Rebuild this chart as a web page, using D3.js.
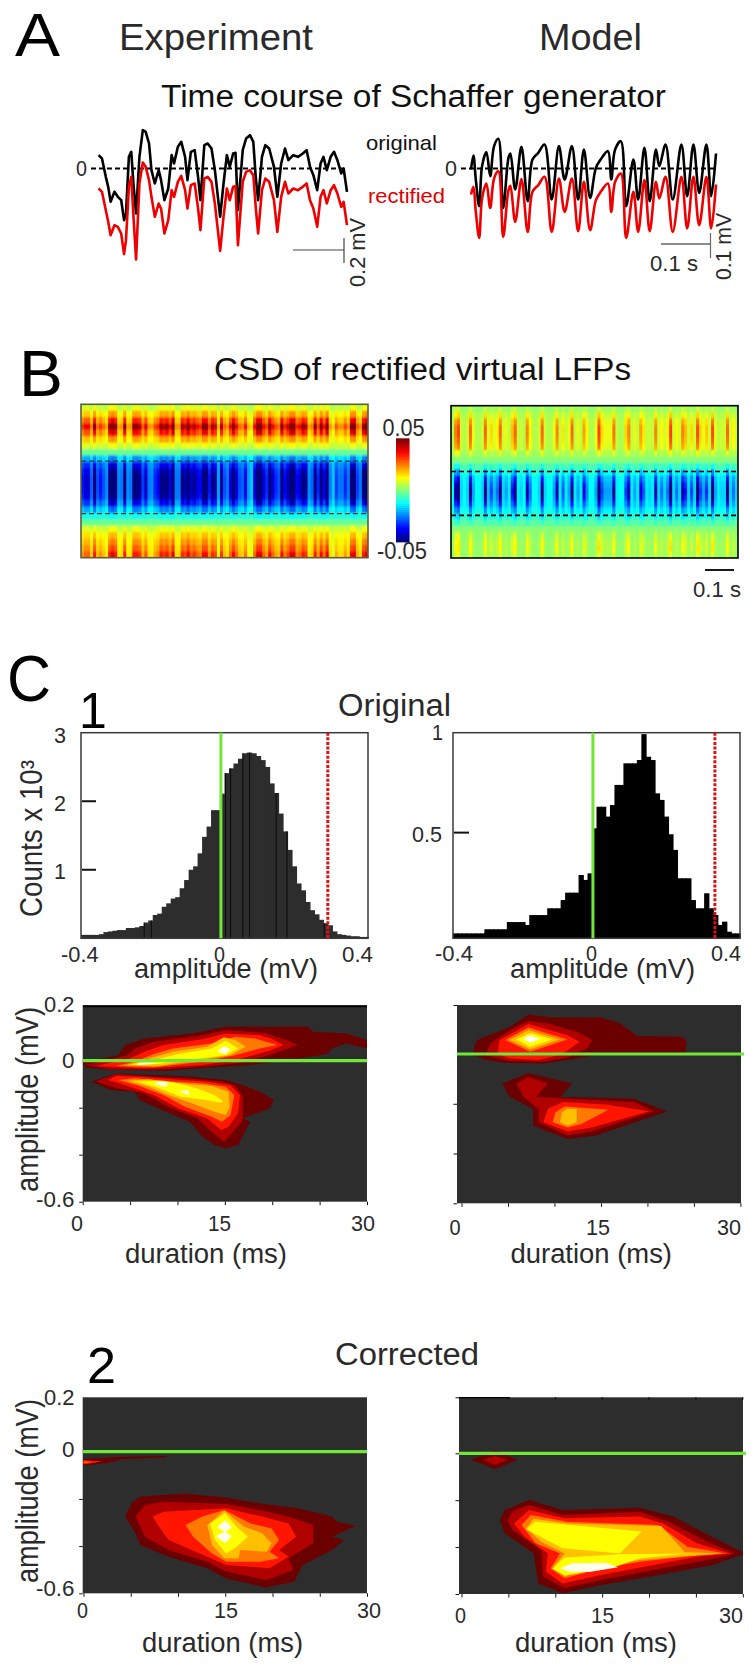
<!DOCTYPE html>
<html><head><meta charset="utf-8">
<script src="https://cdn.jsdelivr.net/npm/d3@7/dist/d3.min.js"></script>
<style>html,body{margin:0;background:#fff}svg{display:block}text{font-family:"Liberation Sans",Arial,sans-serif}</style>
</head><body><svg id="c" width="754" height="1666"></svg>
<script>
// ---------- A: traces (time in ms, amplitude in trace units; 375 units = 1 mV)
const tExp=[0,7,15,20,25,33,40,47,53,57,63,68,73,78,85,92,98,105,110,117,125,130,137,145,152,157,165,172,180,185,192,200,207,212,220,227,235,242,253,260,267,273,280,285,290,300,307,315,322,327,332,340,347,355,365,372,380,388,395,405,415,425,433,440,447,455,462,468,475,483,490,497,505,510,517];
const expOriginal=[40,30,-25,-55,-100,-70,-85,-95,-155,-135,35,50,-55,-135,35,115,110,75,-5,-45,-5,-35,-95,-60,40,15,65,80,35,-35,50,55,-25,-95,70,75,60,-5,-145,-45,40,5,45,47,-125,55,90,100,80,-25,-95,35,70,60,5,-85,15,60,25,40,35,45,55,5,-20,-65,15,35,-5,35,50,25,-15,0,-70];
const expRectified=[-60,-70,-125,-160,-200,-170,-175,-195,-257,-215,-55,-25,-155,-273,-45,18,5,-35,-85,-145,-105,-120,-195,-155,-65,-85,-40,-22,-65,-120,-50,-45,-120,-185,-30,-25,-40,-105,-247,-145,-60,-95,-55,-53,-230,-40,-10,-5,-20,-115,-195,-65,-30,-40,-95,-190,-85,-40,-75,-60,-65,-55,-45,-95,-120,-175,-85,-65,-105,-65,-50,-75,-115,-100,-170];
const tModel=[0,5,10,17,23,32,40,48,57,67,78,82,92,105,118,128,140,153,168,183,195,210,223,235,248,260,270,285,292,300,312,323,338,348,361,372,385,392,405,420,438,450,463,475,490,500,510];
const modelOriginal=[-3,39,-33,-113,7,49,-23,67,89,-118,32,45,-63,65,-98,27,47,72,-93,67,-33,67,-93,57,-88,2,27,52,-33,57,82,-113,27,-93,62,-98,57,7,72,-93,72,-83,72,-73,72,-83,45];
const modelRectified=[-78,-55,-130,-208,-90,-45,-118,-30,-8,-205,-65,-52,-160,-32,-190,-70,-50,-25,-190,-30,-130,-30,-188,-40,-185,-95,-70,-45,-130,-40,-15,-208,-70,-190,-35,-188,-40,-90,-25,-190,-25,-180,-25,-170,-25,-180,-48];
const zeroLevel=[0];

// ---------- B: CSD values, depth rows top to bottom, activity per time bin
const expDepthQuiet=[.004,.009,.011,.016,.011,.010,.006,-.002,-.012,-.018,-.018,-.018,-.018,-.018,-.018,-.015,-.010,-.008,-.002,.006,.009,.010,.010,.010];
const expDepthActive=[.012,.024,.040,.054,.042,.024,.012,-.002,-.026,-.044,-.054,-.058,-.058,-.058,-.054,-.044,-.028,-.012,-.002,.012,.020,.026,.032,.040];
const expActivity=[.45,.6,.6,.25,.85,.3,.45,.3,.15,.85,1,.85,.15,.2,.85,.15,.2,.85,.85,.75,.35,.65,.2,.15,.4,.5,.85,.75,.85,.6,1,.2,.2,.8,.7,.95,.65,.75,.6,.5,.9,.9,.45,.8,.7,.1,.75,.3,.2,.6,.9,.6,.3,.25,.55,.1,0,.6,1,1,.6,.4,.9,.6,.4,.3,.9,.5,.7,1,1,.5,.6,.85,.75,.15,.25,.85,.4,.9,.55,1,.2,0,.35,.2,.2,.4,.2,.9,1,.35,.2,.85,1];
const modelDepthQuiet=[.002,.004,.005,.005,.005,.005,.005,.003,.001,-.004,-.008,-.012,-.012,-.012,-.012,-.012,-.010,-.007,-.003,.001,.001,.002,.002,.002];
const modelDepthActive=[.008,.018,.028,.033,.033,.031,.027,.012,.001,-.012,-.026,-.042,-.054,-.062,-.056,-.042,-.028,-.017,-.008,.002,.012,.015,.016,.012];
const modelActivity=[0,.7,.9,.1,0,.1,.8,.2,0,0,.1,.8,.15,.4,.15,.3,.8,.1,.2,.05,.5,.8,.05,.1,0,.7,.3,0,0,.1,.8,.1,0,0,.2,.7,.05,.35,.05,.2,.8,.05,.2,.05,.6,.25,0,0,.2,.95,.4,.2,.2,.2,.75,.05,0,0,.4,.7,.05,.2,.05,.6,.35,.05,.1,.05,.7,.1,.3,.1,.3,.95,.1,.3,.1,.7,.5,.1,.4,.1,.9,.4,.2,.45,.1,.9,.2,.05,.1,.1,.8,.1,.3,.1];
const expDashes=[.37,.713], modelDashes=[.432,.72];
const jetStops=[-.05,-.0375,-.0125,0,.0125,.0375,.05];
const jetColors=["#00007f","#0000ff","#00ffff","#7fff7f","#ffff00","#ff0000","#7f0000"];

// ---------- C: histograms (counts x 10^3 per amplitude bin)
const histStart=-.39, histBin=.0125;
const histExp=[.05,.05,.05,.05,.06,.09,.10,.11,.12,.12,.15,.15,.16,.18,.23,.26,.34,.36,.46,.51,.58,.60,.73,.85,1.0,1.05,1.24,1.48,1.63,1.87,1.87,2.11,2.41,2.48,2.55,2.62,2.70,2.71,2.70,2.66,2.60,2.50,2.26,2.12,1.82,1.56,1.29,1.05,.80,.70,.53,.41,.35,.27,.22,.19,.10,.06,.05,.04,.03,.03,.02,.02];
const histModel=[.024,.024,.024,.024,.024,.024,.024,.044,.044,.044,.044,.044,.079,.079,.079,.079,.065,.113,.113,.113,.113,.146,.146,.146,.186,.222,.222,.222,.308,.284,.316,.535,.64,.64,.592,.648,.746,.746,.851,.851,.851,.867,.993,.883,.867,.705,.673,.592,.506,.43,.292,.292,.292,.186,.146,.146,.219,.146,.113,.065,.081,.032,.024,.024];
const histExpSeams=[-.214,-.194,.013,.027,.061,.08,.154,.184,.288];
const zeroAmp=0, thresholdExp=.298, thresholdModel=.34;

// ---------- C: filled contours, [level,[[duration ms, amplitude mV],...]]
const levelColors=["#6a0000","#b00000","#ff1500","#ff7800","#ffc000","#ffff00","#fffff0"];
const contoursOrigExp=[
[0,[[0,-.011],[.4,-.03],[3.5,-.04],[9,-.043],[13.6,-.028],[16.6,-.023],[21.7,.002],[25.8,.024],[26.3,.044],[27.8,.062],[30,.044],[30,.074],[27.8,.098],[24.3,.104],[23.8,.122],[19.7,.122],[15.1,.122],[11.6,.098],[6.5,.08],[4.5,.056],[3.7,.02],[.9,.002],[0,-.004]]],
[1,[[.2,-.018],[2.9,-.037],[8.5,-.037],[13.6,-.023],[16.6,-.009],[19.7,.02],[22.7,.056],[21.5,.074],[19.2,.1],[15.1,.11],[12.1,.089],[7.5,.068],[5.5,.044],[4.7,.02],[1.4,-.009]]],
[2,[[1.4,-.023],[6.5,-.033],[12.6,-.018],[16.1,.002],[19.7,.036],[21.2,.056],[19.9,.08],[18.7,.092],[15.1,.098],[12.6,.077],[8.5,.056],[6.5,.032],[5,.008]]],
[3,[[3.5,-.023],[7.5,-.028],[12.6,-.004],[16.1,.02],[18.7,.044],[20.5,.056],[18.2,.08],[16.1,.086],[13.6,.062],[9.5,.044],[7.5,.024],[5.5,-.004]]],
[4,[[4.5,-.02],[8,-.023],[12.1,.002],[15.6,.02],[17.2,.05],[16.1,.074],[14.9,.084],[13.1,.05],[9.5,.032],[7.5,.012]]],
[5,[[5,-.017],[8,-.014],[11.6,.005],[15.1,.02],[16.4,.044],[15.1,.072],[13.6,.044],[10.1,.024],[7.5,.002]]],
[6,[[5.7,-.018],[7.5,-.014],[7.3,-.009],[6,-.009]]],
[6,[[14.2,.032],[15.1,.024],[15.6,.041],[14.9,.053]]],
[0,[[.9,-.089],[2.9,-.125],[5.5,-.132],[6,-.167],[8,-.203],[11.3,-.26],[12.6,-.323],[13.9,-.359],[15.1,-.373],[16.4,-.359],[17.2,-.295],[17.7,-.26],[16.9,-.245],[19.7,-.203],[20.2,-.167],[18.7,-.132],[16.9,-.104],[15.1,-.082],[11.6,-.068],[8,-.061],[3.5,-.054]]],
[1,[[1.4,-.089],[3.7,-.118],[6.5,-.139],[9,-.196],[12.1,-.245],[13.6,-.302],[14.9,-.345],[15.6,-.316],[16.9,-.252],[16.9,-.153],[16.1,-.104],[14.6,-.089],[11.1,-.075],[7.5,-.068],[3.5,-.057]]],
[2,[[2.7,-.082],[5,-.111],[7.5,-.146],[10.1,-.203],[13.1,-.245],[14.6,-.295],[15.4,-.281],[16.4,-.224],[16.6,-.146],[15.6,-.104],[13.1,-.089],[9.5,-.079],[6,-.068],[3.5,-.065]]],
[3,[[3.7,-.082],[6,-.108],[8.5,-.146],[10.8,-.196],[13.6,-.238],[14.7,-.26],[15.6,-.231],[16,-.146],[15.1,-.111],[12.6,-.096],[9,-.087],[5.5,-.075]]],
[4,[[4.7,-.085],[7,-.111],[9,-.146],[11.6,-.182],[13.9,-.217],[15.1,-.231],[15.5,-.196],[15.4,-.132],[13.6,-.108],[10.1,-.096],[7,-.079]]],
[5,[[5.7,-.089],[7.8,-.113],[10.3,-.153],[12.6,-.165],[15.1,-.182],[13.9,-.146],[12.1,-.118],[10.1,-.096],[8.5,-.085]]],
[4,[[13.6,-.193],[15.1,-.213],[15.5,-.193],[14.9,-.174]]],
[6,[[7.5,-.099],[8.8,-.111],[9,-.094],[8,-.089]]],
[6,[[10.1,-.132],[11.3,-.146],[11.1,-.125]]]
];
const contoursOrigModel=[
[0,[[1.3,.023],[1.7,.057],[5.2,.111],[7.2,.161],[9.8,.149],[15,.149],[17.1,.124],[18.9,.073],[23.8,.07],[24.2,.05],[24.1,0],[15,0],[12.4,-.018],[8.8,-.038],[4.7,-.035],[2.6,-.024],[1.3,-.004]]],
[1,[[2.6,-.004],[3.1,.043],[5.2,.097],[7.2,.135],[9.3,.124],[12.4,.091],[14.1,.057],[13.5,.023],[11.4,-.014],[8.8,-.031],[5.2,-.028]]],
[2,[[3.9,0],[4.1,.057],[7.2,.122],[11.4,.077],[12.7,.05],[10.9,0],[8.3,-.024],[5.2,-.018]]],
[3,[[4.7,.057],[7.2,.108],[11.4,.059],[7.4,.009]]],
[4,[[5.2,.057],[7.2,.097],[10.6,.059],[7.4,.019]]],
[5,[[5.9,.059],[7.4,.086],[9.8,.059],[7.4,.03]]],
[6,[[6.6,.061],[7.4,.077],[8.5,.061],[7.4,.046]]],
[0,[[4.4,-.119],[7.2,-.076],[11.9,-.119],[10.6,-.173],[15,-.176],[18.6,-.18],[22.1,-.231],[14.5,-.328],[11.4,-.342],[7.7,-.288],[7.7,-.22],[5.2,-.173]]],
[1,[[5.9,-.119],[7.2,-.092],[9.3,-.119],[8,-.173],[15,-.186],[18.6,-.193],[20.7,-.23],[14,-.311],[11.4,-.328],[8.3,-.274],[8.3,-.22],[6.7,-.173]]],
[2,[[9.3,-.22],[10.9,-.193],[15.5,-.203],[20.2,-.23],[14,-.295],[11.4,-.311],[8.8,-.274]]],
[3,[[10.1,-.234],[11.1,-.211],[15.8,-.224],[12.9,-.281],[11.4,-.295],[9.8,-.274]]],
[4,[[10.8,-.234],[11.4,-.22],[12.4,-.22],[12.4,-.274],[11.4,-.288],[10.6,-.274]]]
];
const contoursCorrExp=[
[0,[[0,-.032],[4,-.021],[8.8,-.018],[8.8,-.024],[4,-.032],[2.4,-.049],[0,-.059]]],
[2,[[0,-.035],[1.9,-.042],[0,-.054]]],
[3,[[0,-.042],[.9,-.044],[0,-.049]]],
[0,[[4.4,-.275],[5.2,-.212],[6,-.191],[10.6,-.177],[15.1,-.194],[18.7,-.219],[22.7,-.24],[26.3,-.275],[26.8,-.297],[28.8,-.315],[26.3,-.36],[27.6,-.374],[26.3,-.417],[23.2,-.48],[22.3,-.551],[19.2,-.575],[15.1,-.537],[13.1,-.494],[9,-.445],[6,-.395],[5.5,-.346]]],
[1,[[5.5,-.275],[6.5,-.226],[8.5,-.212],[15.1,-.222],[18.7,-.247],[21.7,-.275],[24.3,-.311],[24.3,-.388],[21.7,-.452],[22.2,-.501],[19.4,-.544],[15.1,-.508],[13.1,-.466],[9,-.417],[6.5,-.36]]],
[2,[[7.3,-.275],[8.5,-.254],[15.1,-.24],[18.9,-.275],[21.7,-.304],[22.5,-.36],[20.7,-.417],[21.7,-.445],[19.7,-.494],[15.1,-.48],[13.1,-.445],[9,-.374],[8,-.318]]],
[3,[[10.8,-.311],[12.6,-.275],[14.9,-.247],[17.7,-.304],[19.9,-.325],[20.7,-.374],[19.7,-.424],[20.7,-.452],[18.7,-.466],[15.1,-.466],[13.6,-.431],[11.6,-.36]]],
[4,[[13.1,-.311],[14.9,-.25],[17,-.318],[18.9,-.346],[19.9,-.388],[19.4,-.424],[16.6,-.417],[16.4,-.452],[14.9,-.452],[13.6,-.395]]],
[5,[[13.4,-.304],[15,-.261],[16.2,-.318],[17.4,-.36],[16.2,-.403],[15.1,-.431],[13.9,-.374]]],
[6,[[14.2,-.318],[15,-.29],[15.7,-.321],[15,-.339],[15.7,-.357],[15,-.388],[14,-.357],[14.9,-.34]]]
];
const contoursCorrModel=[
[0,[[1,-.028],[3.6,.011],[6,-.028],[3.6,-.067]]],
[1,[[2.3,-.028],[3.6,-.011],[4.9,-.028],[3.6,-.05]]],
[0,[[4.1,-.284],[4.6,-.242],[7.2,-.199],[10.8,-.242],[19,-.232],[22.6,-.27],[26.7,-.356],[30.3,-.427],[26.7,-.477],[20,-.526],[14.9,-.562],[10.8,-.597],[8.2,-.555],[7.7,-.427],[4.6,-.341]]],
[1,[[4.9,-.284],[5.4,-.249],[7.2,-.22],[10.8,-.263],[19,-.249],[22.1,-.292],[26.2,-.377],[29.2,-.427],[26.2,-.455],[19.5,-.505],[14.9,-.54],[11,-.575],[8.7,-.526],[8.5,-.413],[5.4,-.327]]],
[2,[[5.6,-.299],[7.2,-.242],[11,-.277],[19,-.27],[21.5,-.299],[25.1,-.384],[28.7,-.427],[25.1,-.441],[19.5,-.484],[14.9,-.519],[10.8,-.555],[9,-.505],[9.2,-.427],[6.7,-.356]]],
[3,[[6.4,-.306],[7.4,-.263],[11.3,-.292],[21,-.306],[24.1,-.398],[28.2,-.427],[24.6,-.438],[19,-.462],[14.9,-.491],[11,-.533],[9.5,-.491],[10.5,-.427],[7.9,-.384]]],
[4,[[6.9,-.32],[7.7,-.279],[11.3,-.299],[21.3,-.31],[23.8,-.421],[27.7,-.427],[24.1,-.438],[19,-.455],[14.9,-.484],[11,-.52],[9.7,-.491],[11,-.427],[8.5,-.377]]],
[5,[[6.9,-.324],[7.9,-.292],[19.2,-.334],[16.9,-.427],[10.8,-.405]]],
[5,[[9.7,-.491],[11,-.444],[16.9,-.43],[24.1,-.427],[19,-.448],[16.4,-.484],[11,-.522]]],
[6,[[10.5,-.491],[11.8,-.469],[15.4,-.467],[16.7,-.486],[13.8,-.505],[11.5,-.505]]]
];
const durationTicks=[0,5,10,15,20,25,30];

// ---------- drawing
const svg=d3.select("#c"), defs=svg.append("defs");
defs.append("filter").attr("id","soft").attr("x","-2%").attr("y","-2%").attr("width","104%").attr("height","104%")
  .append("feGaussianBlur").attr("stdDeviation","0.7 1.3");
function T(s,x1,x2,base,size,o={}){
  const t=svg.append("text").text(s).attr("x",x1).attr("y",base).attr("font-size",size)
    .attr("fill",o.fill||"#2a2a2a");
  if(x2!=null) t.attr("textLength",x2-x1).attr("lengthAdjust","spacingAndGlyphs");
  return t;
}
function TV(s,baseX,yBottom,yTop,size,o={}){ // rotated, reading bottom to top
  return svg.append("text").text(s).attr("font-size",size).attr("fill",o.fill||"#2a2a2a")
    .attr("transform",`translate(${baseX},${yBottom}) rotate(-90)`)
    .attr("textLength",yBottom-yTop).attr("lengthAdjust","spacingAndGlyphs");
}
function clip(id,x,y,w,h){defs.append("clipPath").attr("id",id).append("rect").attr("x",x).attr("y",y).attr("width",w).attr("height",h);}

// Panel letters and headers
T("A",15,60,56,62,{fill:"#000"});
T("Experiment",119,313,50,36);
T("Model",539,642,50,36);
T("Time course of Schaffer generator",161,666,107,31,{fill:"#111"});
T("B",19,63,396,65,{fill:"#000"});
T("CSD of rectified virtual LFPs",214,631,380,31,{fill:"#111"});
T("C",7,51,701,65,{fill:"#000"});
T("1",79,null,728,50,{fill:"#000"});
T("Original",338,451,716,31);
T("2",87,116,1383,50,{fill:"#000"});
T("Corrected",335,479,1365,31);

// A traces
function traces(ts,black,red,x0,x1,xDash0,curve){
  const tx=d3.scaleLinear().domain([0,d3.max(ts)]).range([x0,x1]);
  const ty=d3.scaleLinear().domain([0,-300]).range([168.5,268.5]);
  const line=v=>d3.line().x((d,i)=>tx(ts[i])).y(d=>ty(d)).curve(curve)(v);
  svg.append("line").attr("x1",xDash0).attr("x2",x1).attr("y1",ty(zeroLevel[0])).attr("y2",ty(zeroLevel[0]))
    .attr("stroke","#000").attr("stroke-width",1.8).attr("stroke-dasharray","5 3");
  svg.append("path").attr("d",line(black)).attr("fill","none").attr("stroke","#000").attr("stroke-width",2.6).attr("stroke-linejoin","round");
  svg.append("path").attr("d",line(red)).attr("fill","none").attr("stroke","#ee0000").attr("stroke-width",2.6).attr("stroke-linejoin","round");
}
traces(tExp,expOriginal,expRectified,98.6,347,91,d3.curveLinear);
traces(tModel,modelOriginal,modelRectified,471,716,461,d3.curveCatmullRom.alpha(.5));
T("0",76,87,176,22); T("0",445,457,176,22);
T("original",366,437,150,21,{fill:"#111"});
T("rectified",368,445,203,21,{fill:"#e00000"});
function bar(x1,y1,x2,y2,c="#444",w=1.2){svg.append("line").attr("x1",x1).attr("y1",y1).attr("x2",x2).attr("y2",y2).attr("stroke",c).attr("stroke-width",w);}
bar(293,250,344,250); bar(344,238,344,263);
TV("0.2 mV",365,287,218,22);
bar(661,244,710.5,244,"#666",1.6); bar(710.5,233,710.5,258,"#666",1.2);
T("0.1 s",650,698,271,22);
TV("0.1 mV",731,280,213,22);

// B heatmaps
const jet=d3.scaleLinear().domain(jetStops).range(jetColors).interpolate(d3.interpolateRgb).clamp(true);
function heat(id,x0,x1,y0,y1,act,quiet,active,dashes,frame,dashW,dashC){
  clip(id,x0,y0,x1-x0,y1-y0);
  const bx=d3.scaleBand().domain(d3.range(act.length)).range([x0,x1]);
  const by=d3.scaleBand().domain(d3.range(quiet.length)).range([y0,y1]);
  const cells=[]; act.forEach((a,i)=>quiet.forEach((q,j)=>cells.push({i,j,v:q+a*(active[j]-q)})));
  const host=svg.append("g").attr("clip-path",`url(#${id})`);
  [null,"url(#soft)"].forEach(f=>{
    const g=host.append("g"); if(f) g.attr("filter",f);
    g.selectAll("rect").data(cells).join("rect").attr("x",d=>bx(d.i)).attr("y",d=>by(d.j))
      .attr("width",bx.bandwidth()+.5).attr("height",by.bandwidth()+.5).attr("fill",d=>jet(d.v));
  });
  const dy=d3.scaleLinear().domain([0,1]).range([y0,y1]);
  host.selectAll("line.d").data(dashes).join("line").attr("x1",x0).attr("x2",x1).attr("y1",d=>dy(d)).attr("y2",d=>dy(d))
    .attr("stroke",dashC).attr("stroke-width",dashW).attr("stroke-dasharray","5 3");
  svg.append("rect").attr("x",x0).attr("y",y0).attr("width",x1-x0).attr("height",y1-y0).attr("fill","none").attr("stroke",frame).attr("stroke-width",1.6);
}
heat("h1",81,368,404.3,557.7,expActivity,expDepthQuiet,expDepthActive,expDashes,"#5a5f40",1.3,"#333");
heat("h2",451,738,405.7,558,modelActivity,modelDepthQuiet,modelDepthActive,modelDashes,"#000",1.6,"#000");
// colour bar
const cbY=d3.scaleLinear().domain([.05,-.05]).range([439.5,541]);
const cbVals=d3.range(-.05,.0501,.002);
svg.append("g").selectAll("rect").data(cbVals).join("rect").attr("x",396).attr("width",13.5)
  .attr("y",d=>cbY(d)-1.2).attr("height",2.6).attr("fill",d=>jet(d));
T("0.05",382.5,424.5,436,23); T("-0.05",377,427,559,23);
bar(705,570,734,570,"#000",1.8);
T("0.1 s",693,741,597,22);

// C histograms
function hist(id,x0,x1,top,base,yMax,vals,barCol,thr,seams){
  const x=d3.scaleLinear().domain([histStart,histStart+vals.length*histBin]).range([x0,x1]);
  const y=d3.scaleLinear().domain([0,yMax]).range([base,top]);
  svg.append("g").selectAll("rect").data(vals).join("rect")
    .attr("x",(d,i)=>x(histStart+i*histBin)).attr("width",x(histBin)-x(0)+.8)
    .attr("y",d=>y(d)).attr("height",d=>base-y(d)).attr("fill",barCol);
  if(seams) svg.append("g").selectAll("line").data(seams).join("line")
    .attr("x1",d=>x(d)).attr("x2",d=>x(d)).attr("y1",d=>y(vals[Math.floor((d-histStart)/histBin)])).attr("y2",base)
    .attr("stroke","#000").attr("stroke-width",.8);
  svg.append("rect").attr("x",x0).attr("y",top).attr("width",x1-x0).attr("height",base-top).attr("fill","none").attr("stroke","#3a3a3a").attr("stroke-width",1.5);
  svg.append("line").attr("x1",x(zeroAmp)).attr("x2",x(zeroAmp)).attr("y1",top).attr("y2",base).attr("stroke","#6fe838").attr("stroke-width",3);
  svg.append("line").attr("x1",x(thr)).attr("x2",x(thr)).attr("y1",top).attr("y2",base).attr("stroke","#e01010").attr("stroke-width",3).attr("stroke-dasharray","3 1.6");
  return y;
}
const yH1=hist("a",81,368,732.7,938.3,3,histExp,"#2d2d2d",thresholdExp,histExpSeams);
const yH2=hist("b",453,740,732.7,938.3,1,histModel,"#000",thresholdModel,null);
[1,2].forEach(v=>bar(82,yH1(v),96,yH1(v),"#111",2));
bar(454,yH2(.514),469,yH2(.514),"#111",2);
T("3",54,66,743,22); T("2",54,66,811,22); T("1",54,66,879,22);
T("1",432,443,740,22); T("0.5",412,442,842,22);
TV("Counts x 10³",42,917,760,31);
T("-0.4",61,98.6,962,22); T("0",214,225,962,22); T("0.4",342,373,962,22);
T("-0.4",435,473,961,22); T("0",586,597,961,22); T("0.4",711,741,961,22);
T("amplitude (mV)",134,318,978,27); T("amplitude (mV)",510,695,978,27);

// C contour panels
function contour(id,bx0,bx1,by0,by1,dx0,dx1,yZero,data,yTickVals,tickDown){
  const x=d3.scaleLinear().domain([0,30]).range([dx0,dx1]);
  const y=d3.scaleLinear().domain([.2,0,-.6]).range([by0,yZero,by1]);
  clip(id,bx0,by0,bx1-bx0,by1-by0);
  svg.append("rect").attr("x",bx0).attr("y",by0).attr("width",bx1-bx0).attr("height",by1-by0).attr("fill","#2d2d2d");
  const line=d3.line().x(d=>x(d[0])).y(d=>y(d[1])).curve(d3.curveLinearClosed);
  svg.append("g").attr("clip-path",`url(#${id})`).selectAll("path").data(data).join("path")
    .attr("d",d=>line(d[1])).attr("fill",d=>levelColors[d[0]]);
  svg.append("line").attr("x1",bx0).attr("x2",bx1+(tickDown?3:0)).attr("y1",y(0)).attr("y2",y(0)).attr("stroke","#6fe838").attr("stroke-width",3.2);
  const ax=svg.append("g").attr("transform",`translate(0,${by1})`).call(d3.axisBottom(x).tickValues(durationTicks).tickSize(3.5).tickFormat(""));
  ax.select(".domain").remove(); ax.selectAll("line").attr("stroke","#111");
  const ay=svg.append("g").attr("transform",`translate(${bx0},0)`).call(d3.axisLeft(y).tickValues(yTickVals).tickSize(3.5).tickFormat(""));
  ay.select(".domain").remove(); ay.selectAll("line").attr("stroke","#111");
  return {x,y};
}
const p1=contour("k1",82.7,367,1005,1201.7,82.7,367,1060.7,contoursOrigExp,[-.2,-.4,-.6],false);
const p2=contour("k2",457,741,1005,1203.3,461.5,740.4,1054,contoursOrigModel,[.2,-.2,-.4,-.6],true);
const p3=contour("k3",82.7,367,1397.3,1593.3,83.5,367,1451.7,contoursCorrExp,[-.2,-.4,-.6],false);
const p4=contour("k4",459,743,1397.3,1594,461.5,742.8,1453.3,contoursCorrModel,[.2,0,-.2,-.4,-.6],true);
bar(83,1006.5,367,1006.5,"#000",1.4);
bar(459,1397.6,510,1397.6,"#000",1.4);
durationTicks.slice(1).forEach(v=>bar(p4.x(v),1397,p4.x(v),1400,"#111",1));

T("0.2",44,74.5,1012,22); T("0",62,74.5,1068,22); T("-0.6",36,74.5,1207,22);
TV("amplitude (mV)",38,1192,1007,31);
T("0",71,83,1231,22); T("15",208,231,1231,22); T("30",351,375,1231,22);
T("duration (ms)",125,287,1263,27);
T("0",449.5,460.6,1235,22); T("15",586,610,1235,22); T("30",717,741,1235,22);
T("duration (ms)",510.5,672,1263,27);

T("0.2",44,74.5,1405,22); T("0",62,74.5,1457,22); T("-0.6",36,74.5,1596,22);
TV("amplitude (mV)",38,1583,1399,31);
T("0",77,88,1618,22); T("15",214,238,1618,22); T("30",357,381,1618,22);
T("duration (ms)",142,303,1652,27);
T("0",455,466,1623,22); T("15",591,614,1623,22); T("30",719,743,1623,22);
T("duration (ms)",515,677,1652,27);
</script></body></html>
